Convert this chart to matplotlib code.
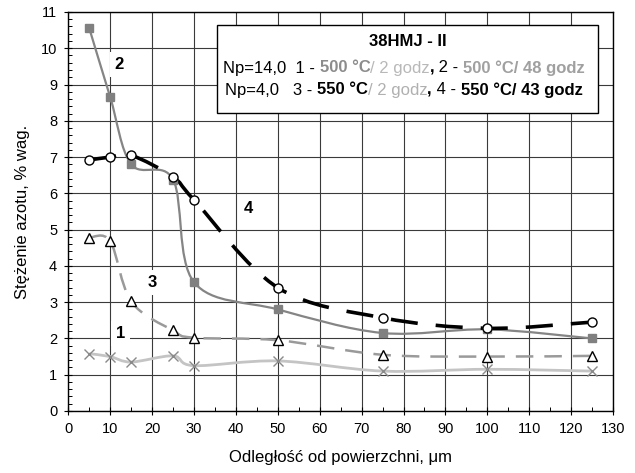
import matplotlib
matplotlib.use('Agg')
import matplotlib.pyplot as plt
from matplotlib.path import Path
from matplotlib.patches import PathPatch, Rectangle
from matplotlib.ticker import MultipleLocator

plt.rcParams['font.family'] = ['Liberation Sans', 'DejaVu Sans']

# distances from surface, um
x = [5, 10, 15, 25, 30, 50, 75, 100, 125]

# nitrogen concentration, % wt
s1 = [1.58, 1.50, 1.35, 1.52, 1.25, 1.38, 1.10, 1.15, 1.10]   # 500 C / 2 h
s2 = [10.55, 8.65, 6.80, 6.38, 3.55, 2.80, 2.15, 2.25, 2.00]  # 500 C / 48 h
s3 = [4.78, 4.68, 3.02, 2.22, 2.02, 1.95, 1.55, 1.50, 1.52]   # 550 C / 2 h
s4 = [6.92, 7.00, 7.05, 6.45, 5.82, 3.40, 2.57, 2.28, 2.45]   # 550 C / 43 h


def smooth_path(xs, ys):
    # Excel-like smoothed line: cubic bezier through the points
    pts = list(zip(xs, ys))
    n = len(pts)
    verts = [pts[0]]
    codes = [Path.MOVETO]
    for i in range(n - 1):
        p0 = pts[max(i - 1, 0)]
        p1 = pts[i]
        p2 = pts[i + 1]
        p3 = pts[min(i + 2, n - 1)]
        c1 = (p1[0] + (p2[0] - p0[0]) / 6, p1[1] + (p2[1] - p0[1]) / 6)
        c2 = (p2[0] - (p3[0] - p1[0]) / 6, p2[1] - (p3[1] - p1[1]) / 6)
        verts += [c1, c2, p2]
        codes += [Path.CURVE4] * 3
    return Path(verts, codes)


fig = plt.figure(figsize=(6.35, 4.73), dpi=100)
ax = fig.add_axes([0.1076, 0.1311, 0.8578, 0.8436])

ax.set_xlim(0, 130)
ax.set_ylim(0, 11)
ax.xaxis.set_major_locator(MultipleLocator(10))
ax.xaxis.set_minor_locator(MultipleLocator(5))
ax.yaxis.set_major_locator(MultipleLocator(1))
ax.yaxis.set_minor_locator(MultipleLocator(0.2))
ax.grid(True, which='major', color='#3a3a3a', linewidth=0.8)
ax.set_axisbelow(True)
ax.tick_params(which='major', direction='inout', length=6, width=0.8, labelsize=10.5, pad=5)
ax.tick_params(which='minor', direction='in', length=3, width=0.7)
for sp in ax.spines.values():
    sp.set_linewidth(1.0)

# lines
ax.add_patch(PathPatch(smooth_path(x, s1), fill=False, edgecolor='#c4c4c4', lw=2.0, zorder=3))
ax.add_patch(PathPatch(smooth_path(x, s2), fill=False, edgecolor='#858585', lw=1.6, zorder=3))
ax.add_patch(PathPatch(smooth_path(x, s3), fill=False, edgecolor='#9a9a9a', lw=1.8,
                       linestyle=(0, (7, 4.4)), zorder=3))
ax.add_patch(PathPatch(smooth_path(x, s4), fill=False, edgecolor='black', lw=2.6,
                       linestyle=(0, (7.5, 5)), zorder=4))

# markers
ax.plot(x, s1, linestyle='none', marker='x', ms=7, mew=1.0, color='#8a8a8a', zorder=5)
ax.plot(x, s2, linestyle='none', marker='s', ms=5.5, color='#808080', mec='#808080', zorder=5)
ax.plot(x, s3, linestyle='none', marker='^', ms=7.5, mfc='white', mec='black', mew=1.0, zorder=5)
ax.plot(x, s4, linestyle='none', marker='o', ms=6.5, mfc='white', mec='black', mew=1.0, zorder=6)

# curve numbers
for lbl, (lx, ly) in zip(['1', '2', '3', '4'], [(12.4, 2.13), (12.2, 9.56), (20.0, 3.54), (43.0, 5.58)]):
    ax.text(lx, ly, lbl, fontsize=12, fontweight='bold', ha='center', va='center', zorder=7,
            bbox=dict(boxstyle='square,pad=0.3', fc='white', ec='none'))

ax.set_xlabel('Odległość od powierzchni, μm', fontsize=12, labelpad=10)
ax.set_ylabel('Stężenie azotu, % wag.', fontsize=12, labelpad=8)

# legend box
ax.add_patch(Rectangle((35.5, 8.21), 91.0, 2.44, fc='white', ec='black', lw=1.0, zorder=8))
fig.text(408 / 635, 1 - 41 / 473, '38HMJ - II', fontsize=12, fontweight='bold',
         ha='center', va='center', zorder=9)

lines = [
    (223, 68, [
        ('Np=14,0  1 - ', 'black', 'normal'),
        ('500 °C', '#8c8c8c', 'bold'),
        ('/ 2 godz', '#b8b8b8', 'normal'),
        (',', 'black', 'bold'),
        (' 2 - ', 'black', 'normal'),
        ('500 °C/ 48 godz', '#a0a0a0', 'bold'),
    ]),
    (225, 90, [
        ('Np=4,0   3 - ', 'black', 'normal'),
        ('550 °C', 'black', 'bold'),
        ('/ 2 godz', '#b0b0b0', 'normal'),
        (',', 'black', 'bold'),
        (' 4 - ', 'black', 'normal'),
        ('550 °C/ 43 godz', 'black', 'bold'),
    ]),
]
fig.canvas.draw()
renderer = fig.canvas.get_renderer()
for x0, ypx, parts in lines:
    xpos = x0
    for txt, col, wt in parts:
        t = fig.text(xpos / 635, 1 - ypx / 473, txt, color=col, fontweight=wt, fontsize=12,
                     ha='left', va='center', zorder=10)
        bb = t.get_window_extent(renderer)
        xpos += bb.width

fig.savefig('out.png', dpi=100)
